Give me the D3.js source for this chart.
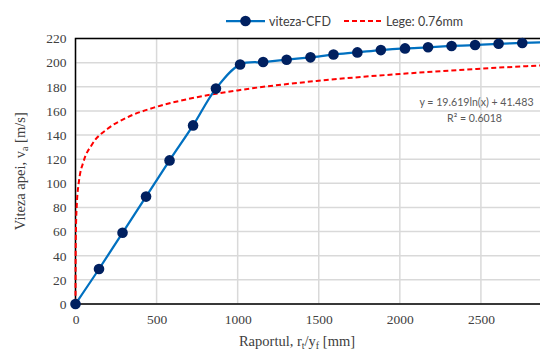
<!DOCTYPE html>
<html>
<head>
<meta charset="utf-8">
<script src="https://cdn.jsdelivr.net/npm/d3@7"></script>
<style>
  body { margin: 0; background: #fff; }
  svg { display: block; }
</style>
</head>
<body>
<div id="chart"></div>
<script>
// CFD velocity points
const cfdX = [0, 145, 290, 435, 580, 725, 866, 1015, 1157, 1302, 1449, 1591, 1738, 1883, 2032, 2174, 2319, 2464, 2609, 2755, 2900];
const cfdY = [0, 29, 59, 89, 119, 148, 178.5, 198.5, 200.5, 202.4, 204.4, 206.7, 208.5, 210.4, 211.8, 212.7, 213.8, 214.6, 215.6, 216.3, 217];

// dashed "Lege" curve
const legeX = [0.12, 0.5, 1, 3, 8, 20, 50, 100, 200, 300, 500, 700, 1000, 1500, 2000, 2500, 3000];
const legeY = [0, 27.9, 41.5, 63, 82.3, 100.3, 118.2, 131.8, 145.4, 153.4, 163.4, 170, 177, 185, 190.6, 195, 198.6];

const xTicks = [0, 500, 1000, 1500, 2000, 2500];
const yTicks = [0, 20, 40, 60, 80, 100, 120, 140, 160, 180, 200, 220];

const seriesNames = ["viteza-CFD", "Lege: 0.76mm"];
const eqText = "y = 19.619ln(x) + 41.483";
const r2Text = "R² = 0.6018";

const W = 540, H = 350;
const margin = {left: 75.5, top: 38.5, right: -22, bottom: 46};
const width = W - margin.left - margin.right,
      height = H - margin.top - margin.bottom;

const svg = d3.select("#chart").append("svg")
    .attr("width", W).attr("height", H);

const serif = "'Liberation Serif', 'DejaVu Serif', serif";
const sans = "Lato, 'Open Sans', 'Liberation Sans', sans-serif";

const g = svg.append("g")
    .attr("transform", "translate(" + margin.left + "," + margin.top + ")");

// scales
const xScale = d3.scaleLinear().domain([0, 3000]).range([0, width]);
const yScale = d3.scaleLinear().domain([0, 220]).range([height, 0]);

// gridlines
g.append("g")
   .selectAll("line.gx")
   .data(xTicks.concat([3000]))
   .enter().append("line")
   .attr("x1", d => xScale(d)).attr("x2", d => xScale(d))
   .attr("y1", 0).attr("y2", height)
   .attr("stroke", "#d9d9d9").attr("stroke-width", 1.5);

g.append("g")
   .selectAll("line.gy")
   .data(yTicks)
   .enter().append("line")
   .attr("x1", 0).attr("x2", width)
   .attr("y1", d => yScale(d)).attr("y2", d => yScale(d))
   .attr("stroke", "#d9d9d9").attr("stroke-width", 1.5);

// plot border
g.append("rect")
   .attr("x", 0).attr("y", 0)
   .attr("width", width).attr("height", height)
   .attr("fill", "none").attr("stroke", "#000").attr("stroke-width", 1.5);

// axes (labels only)
const xAxis = d3.axisBottom(xScale).tickValues(xTicks).tickFormat(d3.format("d"))
   .tickSize(0).tickPadding(10);
const yAxis = d3.axisLeft(yScale).tickValues(yTicks).tickFormat(d3.format("d"))
   .tickSize(0).tickPadding(9);

const gx = g.append("g")
   .attr("transform", "translate(0," + height + ")")
   .call(xAxis);
const gy = g.append("g").call(yAxis);
[gx, gy].forEach(a => {
  a.select(".domain").remove();
  a.selectAll("text")
   .attr("font-family", serif)
   .attr("font-size", "13.5px")
   .attr("fill", "#404040");
});

// clip for curves
g.append("clipPath").attr("id", "clip")
   .append("rect").attr("x", -8).attr("y", -8)
   .attr("width", width + 16).attr("height", height + 16);

// dashed trend
const legeData = legeX.map((x, i) => ({x: x, y: legeY[i]}));
const legeLine = d3.line()
   .x(d => xScale(d.x)).y(d => yScale(d.y))
   .curve(d3.curveMonotoneX);
g.append("path")
   .datum(legeData)
   .attr("clip-path", "url(#clip)")
   .attr("d", legeLine)
   .attr("fill", "none")
   .attr("stroke", "#ff0000")
   .attr("stroke-width", 2)
   .attr("stroke-dasharray", "5,3");

// CFD series
const cfdData = cfdX.map((x, i) => ({x: x, y: cfdY[i]}));
const cfdLine = d3.line()
   .x(d => xScale(d.x)).y(d => yScale(d.y))
   .curve(d3.curveCatmullRom.alpha(0.5));
g.append("path")
   .datum(cfdData)
   .attr("d", cfdLine)
   .attr("fill", "none")
   .attr("stroke", "#0070c0")
   .attr("stroke-width", 2.25);

g.selectAll("circle.pt")
   .data(cfdData)
   .enter().append("circle")
   .attr("cx", d => xScale(d.x))
   .attr("cy", d => yScale(d.y))
   .attr("r", 5.3)
   .attr("fill", "#002060");

// trendline label
const eq = g.append("text")
   .attr("x", 401).attr("y", 67)
   .attr("text-anchor", "middle")
   .attr("font-family", sans)
   .attr("font-size", "10.6px")
   .attr("fill", "#595959");
eq.append("tspan").attr("x", 401).attr("dy", 0).text(eqText);
eq.append("tspan").attr("x", 399).attr("dy", 16).text(r2Text);

// axis titles
const xt = svg.append("text")
   .attr("x", 297).attr("y", 346)
   .attr("text-anchor", "middle")
   .attr("font-family", serif)
   .attr("font-size", "14.5px")
   .attr("fill", "#404040");
xt.append("tspan").text("Raportul, r");
xt.append("tspan").attr("font-size", "10px").attr("dy", 3).text("t");
xt.append("tspan").attr("dy", -3).text("/y");
xt.append("tspan").attr("font-size", "10px").attr("dy", 3).text("f");
xt.append("tspan").attr("dy", -3).text(" [mm]");

const yt = svg.append("text")
   .attr("transform", "translate(25," + (margin.top + height / 2) + ") rotate(-90)")
   .attr("text-anchor", "middle")
   .attr("font-family", serif)
   .attr("font-size", "14.5px")
   .attr("fill", "#404040");
yt.append("tspan").text("Viteza apei, v");
yt.append("tspan").attr("font-size", "10px").attr("dy", 3).text("a");
yt.append("tspan").attr("dy", -3).text(" [m/s]");

// legend
const lg = svg.append("g").attr("transform", "translate(226,21)");
lg.append("line").attr("x1", 0).attr("x2", 39).attr("y1", 0).attr("y2", 0)
   .attr("stroke", "#0070c0").attr("stroke-width", 2.25);
lg.append("circle").attr("cx", 19.5).attr("cy", 0).attr("r", 5.3).attr("fill", "#002060");
lg.append("text").attr("x", 43).attr("y", 4.5)
   .attr("font-family", sans).attr("font-size", "12.5px").attr("fill", "#404040")
   .text(seriesNames[0]);
lg.append("line").attr("x1", 118).attr("x2", 157).attr("y1", 0).attr("y2", 0)
   .attr("stroke", "#ff0000").attr("stroke-width", 2).attr("stroke-dasharray", "5,3");
lg.append("text").attr("x", 160).attr("y", 4.5)
   .attr("font-family", sans).attr("font-size", "12.5px").attr("fill", "#404040")
   .text(seriesNames[1]);
</script>
</body>
</html>
